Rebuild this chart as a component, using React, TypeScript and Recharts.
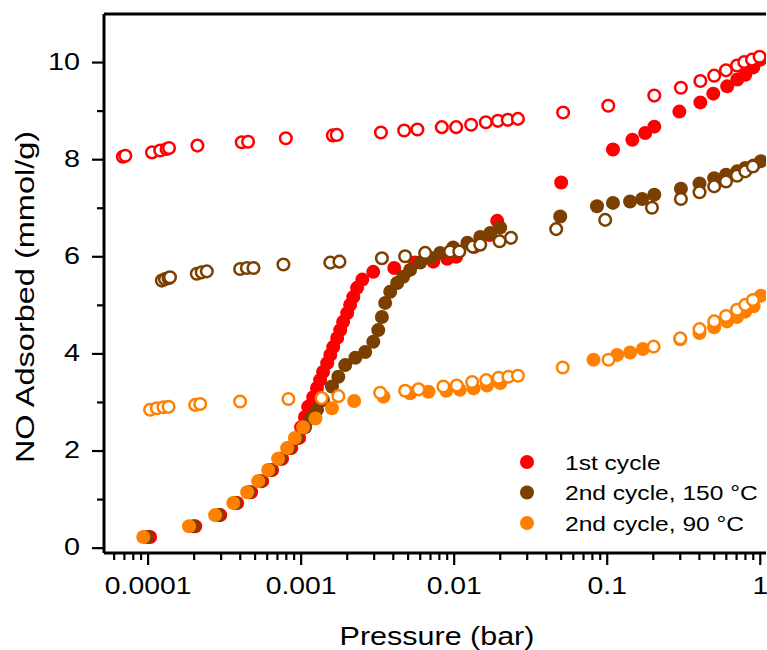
import React from 'react';
import { ScatterChart, Scatter, XAxis, YAxis, ReferenceLine, Legend } from 'recharts';

const FONT = '"Liberation Sans", Arial, Helvetica, sans-serif';
const RED = '#ff0000';
const BROWN = '#7b3f00';
const ORANGE = '#ff8000';

// ---- data (pressure in bar, uptake in mmol/g) ----
const cycle1AdsP = [1.03e-4, 2.03e-4, 2.96e-4, 3.82e-4, 4.71e-4, 5.56e-4, 6.46e-4, 7.51e-4, 8.61e-4, 9.7e-4, 1.0e-3, 1.06e-3, 1.11e-3, 1.2e-3, 1.27e-3, 1.33e-3, 1.39e-3, 1.48e-3, 1.55e-3, 1.62e-3, 1.72e-3, 1.8e-3, 1.88e-3, 2.0e-3, 2.09e-3, 2.19e-3, 2.32e-3, 2.51e-3, 2.96e-3, 4.06e-3, 5.56e-3, 7.3e-3, 9.0e-3, 0.0103, 0.0135, 0.017, 0.0191, 0.05, 0.109, 0.146, 0.177, 0.203, 0.296, 0.406, 0.493, 0.608, 0.708, 0.798, 0.9, 1.0];
const cycle1AdsQ = [0.23, 0.45, 0.68, 0.93, 1.15, 1.38, 1.61, 1.84, 2.06, 2.27, 2.49, 2.7, 2.91, 3.11, 3.3, 3.46, 3.63, 3.81, 3.98, 4.14, 4.33, 4.49, 4.66, 4.84, 5.01, 5.17, 5.36, 5.53, 5.69, 5.77, 5.88, 5.9, 5.96, 6.0, 6.2, 6.45, 6.74, 7.53, 8.21, 8.41, 8.55, 8.68, 8.99, 9.18, 9.36, 9.51, 9.65, 9.75, 9.9, 10.06];
const cycle1DesP = [6.84e-5, 7.1e-5, 1.06e-4, 1.2e-4, 1.32e-4, 1.37e-4, 2.1e-4, 4.09e-4, 4.5e-4, 7.94e-4, 1.61e-3, 1.71e-3, 3.32e-3, 4.71e-3, 5.75e-3, 8.3e-3, 0.0103, 0.0129, 0.0161, 0.0193, 0.0224, 0.0261, 0.0515, 0.1016, 0.203, 0.303, 0.406, 0.5, 0.597, 0.705, 0.786, 0.883, 0.99];
const cycle1DesQ = [8.06, 8.08, 8.15, 8.19, 8.22, 8.24, 8.29, 8.36, 8.37, 8.44, 8.5, 8.51, 8.56, 8.6, 8.62, 8.67, 8.67, 8.72, 8.77, 8.8, 8.82, 8.84, 8.97, 9.11, 9.32, 9.48, 9.62, 9.73, 9.84, 9.94, 10.01, 10.06, 10.12];

const c150AdsP = [9.85e-5, 1.97e-4, 2.87e-4, 3.7e-4, 4.57e-4, 5.39e-4, 6.27e-4, 7.29e-4, 8.35e-4, 9.42e-4, 1.06e-3, 1.16e-3, 1.27e-3, 1.39e-3, 1.59e-3, 1.75e-3, 1.94e-3, 2.26e-3, 2.62e-3, 2.96e-3, 3.19e-3, 3.37e-3, 3.54e-3, 3.82e-3, 4.24e-3, 4.64e-3, 5.15e-3, 6.0e-3, 6.97e-3, 8.1e-3, 9.85e-3, 0.0122, 0.0148, 0.0172, 0.02, 0.0493, 0.0857, 0.109, 0.141, 0.169, 0.203, 0.303, 0.401, 0.5, 0.597, 0.705, 0.798, 0.904, 1.01];
const c150AdsQ = [0.23, 0.45, 0.68, 0.93, 1.15, 1.38, 1.61, 1.84, 2.06, 2.27, 2.49, 2.68, 2.85, 3.05, 3.33, 3.53, 3.77, 3.92, 4.04, 4.25, 4.49, 4.76, 5.05, 5.28, 5.46, 5.59, 5.73, 5.88, 5.98, 6.08, 6.19, 6.29, 6.41, 6.49, 6.6, 6.83, 7.04, 7.11, 7.14, 7.19, 7.28, 7.4, 7.51, 7.62, 7.69, 7.76, 7.83, 7.88, 7.97];
const c150DesP = [1.23e-4, 1.29e-4, 1.36e-4, 1.39e-4, 2.08e-4, 2.24e-4, 2.42e-4, 3.99e-4, 4.42e-4, 4.88e-4, 7.66e-4, 1.55e-3, 1.78e-3, 3.37e-3, 4.78e-3, 6.46e-3, 9.4e-3, 0.0108, 0.0132, 0.0148, 0.0198, 0.0235, 0.0464, 0.097, 0.196, 0.303, 0.401, 0.5, 0.597, 0.705, 0.798, 0.895];
const c150DesQ = [5.51, 5.54, 5.56, 5.58, 5.65, 5.68, 5.7, 5.75, 5.77, 5.77, 5.84, 5.88, 5.9, 5.97, 6.01, 6.08, 6.11, 6.11, 6.21, 6.25, 6.32, 6.39, 6.57, 6.76, 7.01, 7.19, 7.33, 7.45, 7.55, 7.67, 7.76, 7.86];

const c90AdsP = [9.3e-5, 1.85e-4, 2.74e-4, 3.6e-4, 4.44e-4, 5.24e-4, 6.09e-4, 7.07e-4, 8.1e-4, 9.1e-4, 1.03e-3, 1.24e-3, 1.59e-3, 2.22e-3, 3.45e-3, 5.15e-3, 6.79e-3, 8.87e-3, 0.0109, 0.0134, 0.0164, 0.02, 0.0813, 0.116, 0.141, 0.171, 0.3, 0.401, 0.5, 0.606, 0.705, 0.798, 0.904, 1.01];
const c90AdsQ = [0.23, 0.45, 0.68, 0.93, 1.15, 1.38, 1.61, 1.84, 2.06, 2.27, 2.49, 2.67, 2.88, 3.03, 3.12, 3.19, 3.22, 3.24, 3.26, 3.29, 3.35, 3.4, 3.88, 3.98, 4.03, 4.1, 4.3, 4.43, 4.55, 4.67, 4.76, 4.87, 4.98, 5.2];
const c90DesP = [1.03e-4, 1.14e-4, 1.26e-4, 1.36e-4, 2.03e-4, 2.19e-4, 3.99e-4, 8.26e-4, 1.36e-3, 1.75e-3, 3.28e-3, 4.78e-3, 5.85e-3, 8.5e-3, 0.0104, 0.0131, 0.0162, 0.0195, 0.0226, 0.0261, 0.0512, 0.102, 0.201, 0.3, 0.401, 0.5, 0.597, 0.705, 0.798, 0.895];
const c90DesQ = [2.85, 2.88, 2.9, 2.91, 2.95, 2.97, 3.02, 3.07, 3.09, 3.13, 3.2, 3.24, 3.27, 3.33, 3.35, 3.42, 3.46, 3.51, 3.53, 3.55, 3.72, 3.88, 4.15, 4.32, 4.51, 4.67, 4.78, 4.91, 5.01, 5.11];

const legendLabels = ['1st cycle', '2nd cycle, 150 °C', '2nd cycle, 90 °C'];
const legendColors = [RED, BROWN, ORANGE];

const xMajorTicks = [0.0001, 0.001, 0.01, 0.1, 1];
const xTickLabels = ['0.0001', '0.001', '0.01', '0.1', '1'];
const xMinorTicks = [
  6e-5, 7e-5, 8e-5, 9e-5,
  2e-4, 3e-4, 4e-4, 5e-4, 6e-4, 7e-4, 8e-4, 9e-4,
  2e-3, 3e-3, 4e-3, 5e-3, 6e-3, 7e-3, 8e-3, 9e-3,
  0.02, 0.03, 0.04, 0.05, 0.06, 0.07, 0.08, 0.09,
  0.2, 0.3, 0.4, 0.5, 0.6, 0.7, 0.8, 0.9,
];
const yTicks = [0, 1, 2, 3, 4, 5, 6, 7, 8, 9, 10];
const yMajorTicks = [0, 2, 4, 6, 8, 10];

const xTitle = 'Pressure (bar)';
const yTitle = 'NO Adsorbed (mmol/g)';

const zip = (p: number[], q: number[]) => p.map((x, i) => ({ x, y: q[i] }));

const allXTicks = [...xMinorTicks, ...xMajorTicks].sort((a, b) => a - b);

const XTick = (props: any) => {
  const { x, y, payload } = props;
  const idx = xMajorTicks.findIndex((v) => Math.abs(v - payload.value) / v < 1e-6);
  const major = idx >= 0;
  return (
    <g>
      <line x1={x} x2={x} y1={y} y2={y + (major ? 12 : 7)} stroke="#000" strokeWidth={2.2} />
      {major && (
        <text transform={`translate(${x},${y + 41}) scale(1.18,1)`} textAnchor="middle" fontSize={24} fontFamily={FONT} fill="#000">
          {xTickLabels[idx]}
        </text>
      )}
    </g>
  );
};

const YTick = (props: any) => {
  const { x, y, payload } = props;
  const v = payload.value;
  const major = yMajorTicks.includes(v);
  return (
    <g>
      <line x1={x - (major ? 12 : 7)} x2={x} y1={y} y2={y} stroke="#000" strokeWidth={2.2} />
      {major && (
        <text transform={`translate(${x - 24},${y + 7}) scale(1.2,1)`} textAnchor="end" fontSize={24} fontFamily={FONT} fill="#000">
          {v}
        </text>
      )}
    </g>
  );
};

const XLabel = () => (
  <text transform="translate(437,645) scale(1.22,1)" textAnchor="middle" fontSize={25} fontFamily={FONT} fill="#000">
    {xTitle}
  </text>
);

const YLabel = () => (
  <text transform="translate(34,297) rotate(-90) scale(1.3,1)" textAnchor="middle" fontSize={25} fontFamily={FONT} fill="#000">
    {yTitle}
  </text>
);

const filled = (color: string) => (p: any) => <circle cx={p.cx} cy={p.cy} r={7} fill={color} />;
const open = (color: string) => (p: any) => (
  <circle cx={p.cx} cy={p.cy} r={5.8} fill="#fff" stroke={color} strokeWidth={2.5} />
);

const LegendBox = () => (
  <svg width={260} height={95} style={{ display: 'block' }}>
    {legendLabels.map((label, i) => (
      <g key={label}>
        <circle cx={22} cy={17 + i * 30.5} r={7} fill={legendColors[i]} />
        <text transform={`translate(60,${17 + i * 30.5 + 7.5}) scale(1.17,1)`} fontSize={21} fontFamily={FONT} fill="#000">
          {label}
        </text>
      </g>
    ))}
  </svg>
);

export default function App() {
  const axisLine = { stroke: '#000', strokeWidth: 3 };
  return (
    <div style={{ position: 'absolute', left: 0, top: 0, background: '#fff' }}>
      <ScatterChart width={767} height={650} margin={{ top: 14, right: 1, bottom: 0, left: 0 }}>
        <XAxis
          type="number"
          dataKey="x"
          scale="log"
          domain={[5.15e-5, 1.09]}
          allowDataOverflow
          ticks={allXTicks}
          interval={0}
          tick={<XTick />}
          tickLine={false}
          tickSize={0}
          tickMargin={0}
          axisLine={axisLine}
          height={97}
          label={<XLabel />}
        />
        <YAxis
          type="number"
          dataKey="y"
          domain={[-0.1, 11]}
          allowDataOverflow
          ticks={yTicks}
          interval={0}
          tick={<YTick />}
          tickLine={false}
          tickSize={0}
          tickMargin={0}
          axisLine={axisLine}
          width={104}
          label={<YLabel />}
        />
        <ReferenceLine y={11} stroke="#000" strokeWidth={3} />
        <Scatter data={zip(cycle1AdsP, cycle1AdsQ)} shape={filled(RED)} isAnimationActive={false} />
        <Scatter data={zip(cycle1DesP, cycle1DesQ)} shape={open(RED)} isAnimationActive={false} />
        <Scatter data={zip(c150AdsP, c150AdsQ)} shape={filled(BROWN)} isAnimationActive={false} />
        <Scatter data={zip(c150DesP, c150DesQ)} shape={open(BROWN)} isAnimationActive={false} />
        <Scatter data={zip(c90AdsP, c90AdsQ)} shape={filled(ORANGE)} isAnimationActive={false} />
        <Scatter data={zip(c90DesP, c90DesQ)} shape={open(ORANGE)} isAnimationActive={false} />
        <Legend
          layout="horizontal"
          verticalAlign="middle"
          align="center"
          wrapperStyle={{ left: 505, top: 445, width: 260, height: 95 }}
          content={() => <LegendBox />}
        />
      </ScatterChart>
    </div>
  );
}
